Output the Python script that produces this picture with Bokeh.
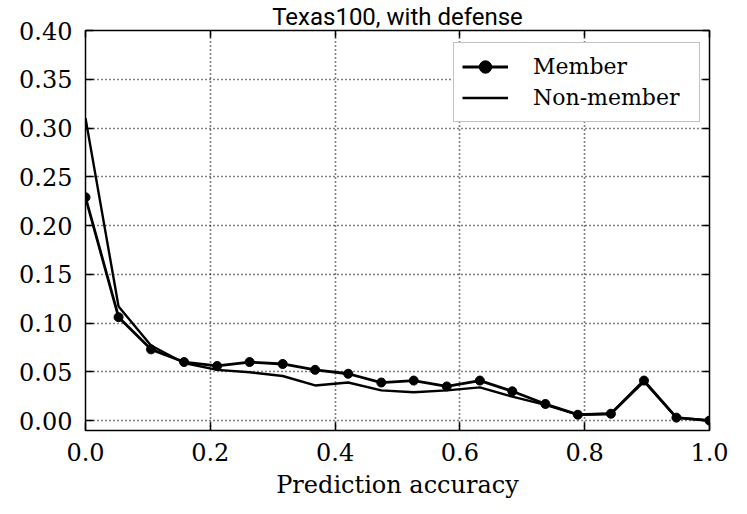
from bokeh.plotting import figure
from bokeh.models import (Range1d, FixedTicker, PrintfTickFormatter, LinearAxis,
                          Legend, LegendItem, Title, ColumnDataSource)
from bokeh.embed import file_html
from bokeh.resources import INLINE

# ---- data ----
accuracy = [0.000, 0.053, 0.105, 0.158, 0.211, 0.263, 0.316, 0.368, 0.421, 0.474,
            0.526, 0.579, 0.632, 0.684, 0.737, 0.789, 0.842, 0.895, 0.947, 1.000]
member = [0.229, 0.106, 0.073, 0.060, 0.056, 0.060, 0.058, 0.052, 0.048, 0.039,
          0.041, 0.035, 0.041, 0.030, 0.017, 0.006, 0.007, 0.041, 0.003, 0.000]
non_member = [0.310, 0.117, 0.077, 0.059, 0.052, 0.0495, 0.0457, 0.036, 0.039, 0.031,
              0.029, 0.031, 0.034, 0.0245, 0.016, 0.006, 0.007, 0.040, 0.003, 0.000]
x_ticks = [0.0, 0.2, 0.4, 0.6, 0.8, 1.0]
y_ticks = [0.00, 0.05, 0.10, 0.15, 0.20, 0.25, 0.30, 0.35, 0.40]
title_text = "Texas100, with defense"
x_label = "Prediction accuracy"
series_names = ["Member", "Non-member"]

SERIF = "DejaVu Serif"

p = figure(width=739, height=501, output_backend="svg", toolbar_location=None,
           x_range=Range1d(0, 1), y_range=Range1d(-0.0102, 0.40),
           min_border_left=85, min_border_right=30, min_border_top=0,
           min_border_bottom=60, background_fill_color="white",
           border_fill_color="white")

p.title = Title(text=title_text, text_font="Roboto", text_font_size="24px",
                text_font_style="normal", text_color="black", align="center",
                standoff=0, offset=0)

p.outline_line_color = "black"
p.outline_line_width = 1.5

src = ColumnDataSource(dict(x=accuracy, m=member, n=non_member))
r_n = p.line("x", "n", source=src, line_color="black", line_width=2.4)
r_m = p.line("x", "m", source=src, line_color="black", line_width=2.8)
r_ms = p.scatter("x", "m", source=src, size=9, fill_color="black", line_color="black")

for ax in p.xaxis:
    ax.ticker = FixedTicker(ticks=x_ticks)
    ax.formatter = PrintfTickFormatter(format="%.1f")
    ax.axis_label = x_label
    ax.axis_label_text_font = SERIF
    ax.axis_label_text_font_size = "24px"
    ax.axis_label_text_font_style = "normal"
    ax.axis_label_text_color = "black"
    ax.axis_label_standoff = 7
    ax.major_label_standoff = 12
for ax in p.yaxis:
    ax.ticker = FixedTicker(ticks=y_ticks)
    ax.formatter = PrintfTickFormatter(format="%.2f")
    ax.major_label_standoff = 13

for ax in p.xaxis + p.yaxis:
    ax.major_label_text_font = SERIF
    ax.major_label_text_font_size = "24px"
    ax.major_label_text_color = "black"
    ax.axis_line_color = None
    ax.major_tick_in = 8
    ax.major_tick_out = 0
    ax.major_tick_line_width = 1.5
    ax.major_tick_line_color = "black"
    ax.minor_tick_line_color = None

# mirrored ticks on right and top (labels hidden)
right_ax = LinearAxis(ticker=FixedTicker(ticks=y_ticks), major_label_text_font_size="1px",
                      major_label_text_color=None, major_label_standoff=0,
                      axis_line_color=None, major_tick_in=7, major_tick_out=0,
                      major_tick_line_width=1.5, minor_tick_line_color=None)
top_ax = LinearAxis(ticker=FixedTicker(ticks=x_ticks), major_label_text_font_size="1px",
                    major_label_text_color=None, major_label_standoff=0,
                    axis_line_color=None, major_tick_in=7, major_tick_out=0,
                    major_tick_line_width=1.5, minor_tick_line_color=None)
p.add_layout(right_ax, "right")
p.add_layout(top_ax, "above")

for g in (p.xgrid, p.ygrid):
    g.grid_line_color = "black"
    g.grid_line_dash = "1 3"
    g.grid_line_width = 1.6
p.ygrid.ticker = FixedTicker(ticks=y_ticks)
p.xgrid.ticker = FixedTicker(ticks=x_ticks)

legend = Legend(items=[LegendItem(label=series_names[0], renderers=[r_m, r_ms]),
                       LegendItem(label=series_names[1], renderers=[r_n])],
                location=(368, 308), margin=0, padding=8, spacing=0,
                glyph_width=46, glyph_height=31, label_height=31, label_standoff=25,
                label_width=158,
                label_text_font=SERIF, label_text_font_size="22px",
                label_text_color="black",
                border_line_color="#888888", border_line_width=1,
                background_fill_color="white", background_fill_alpha=1)
p.add_layout(legend, "center")

open("out.html", "w").write(file_html(p, INLINE))
